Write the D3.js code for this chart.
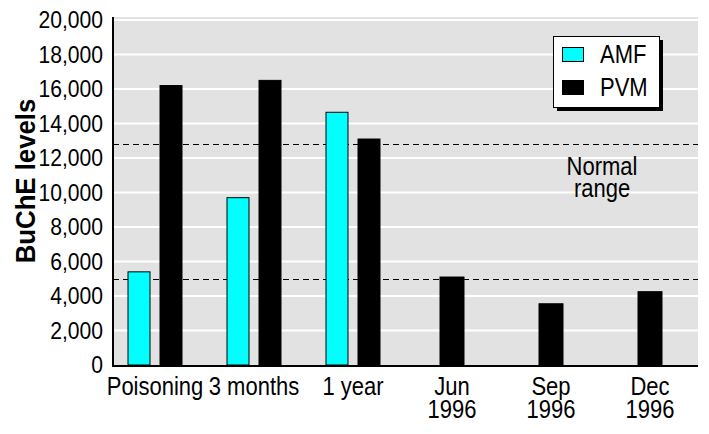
<!DOCTYPE html>
<meta charset="utf-8">
<body style="margin:0;background:#fff">
<script src="https://d3js.org/d3.v7.min.js"></script>
<script>
// data
var categories = ["Poisoning", "3 months", "1 year", "Jun 1996", "Sep 1996", "Dec 1996"];
var series = ["AMF", "PVM"];
var amfValues = [5400, 9700, 14650, null, null, null];
var pvmValues = [16200, 16500, 13100, 5100, 3550, 4250];
var yTicks = [0, 2000, 4000, 6000, 8000, 10000, 12000, 14000, 16000, 18000, 20000];
var normalRange = [5000, 12800];
var colors = {AMF: "#00ffff", PVM: "#000000"};

var width = 709, height = 434;
var font = "'Liberation Sans', Arial, sans-serif";
var squeeze = 0.88; // narrow face look

var svg = d3.select("body").append("svg")
    .attr("width", width)
    .attr("height", height)
    .style("font-family", font);

var pLeft = 113, pRight = 698, pTop = 17, pBottom = 365;

var y = d3.scaleLinear().domain([0, 20000]).range([pBottom, 20]);
var x = d3.scalePoint().domain(categories).range([155, 650]);
var x1 = d3.scaleBand().domain(series).range([-27, 27]).paddingInner(0.3125);

// put a squeezed text at (tx, ty)
function narrowText(parent, tx, ty, str, size, anchor) {
  return parent.append("text")
      .attr("transform", "translate(" + tx + "," + ty + ") scale(" + squeeze + ",1)")
      .attr("text-anchor", anchor || "start")
      .style("font-size", size + "px")
      .text(str);
}

// plot background
svg.append("rect")
    .attr("x", pLeft).attr("y", pTop)
    .attr("width", pRight - pLeft).attr("height", pBottom - pTop)
    .attr("fill", "#e2e2e2");

// white grid
svg.append("g")
  .selectAll("line")
  .data(yTicks.slice(1))
  .enter().append("line")
    .attr("x1", pLeft).attr("x2", pRight)
    .attr("y1", d => y(d)).attr("y2", d => y(d))
    .attr("stroke", "#fff")
    .attr("stroke-width", 2);

// dashed normal range
svg.append("g")
  .selectAll("line")
  .data(normalRange)
  .enter().append("line")
    .attr("x1", pLeft).attr("x2", pRight)
    .attr("y1", d => Math.round(y(d)) + 0.5).attr("y2", d => Math.round(y(d)) + 0.5)
    .attr("stroke", "#000")
    .attr("stroke-width", 1)
    .attr("stroke-dasharray", "6,4");

narrowText(svg, 602, 175, "Normal", 25, "middle");
narrowText(svg, 602, 197, "range", 25, "middle");

// bars
var rows = categories.map(function(c, i) {
  return {cat: c, AMF: amfValues[i], PVM: pvmValues[i]};
});

var groups = svg.append("g")
  .selectAll("g")
  .data(rows)
  .enter().append("g")
    .attr("transform", d => "translate(" + x(d.cat) + ",0)");

groups.selectAll("rect")
  .data(function(d) {
    var both = d.AMF != null;
    return series.filter(s => d[s] != null).map(s => ({key: s, value: d[s], single: !both}));
  })
  .enter().append("rect")
    .attr("x", d => d.single ? -12 : x1(d.key))
    .attr("width", d => d.single ? 24 : x1.bandwidth())
    .attr("y", d => y(d.value))
    .attr("height", d => pBottom - y(d.value))
    .attr("fill", d => colors[d.key])
    .attr("stroke", "#000")
    .attr("stroke-width", 1);

// y axis
var yAxis = svg.append("g")
    .attr("transform", "translate(" + pLeft + ",0)")
    .call(d3.axisLeft(y).tickValues(yTicks).tickSize(0).tickPadding(10).tickFormat(d3.format(",")));
yAxis.select(".domain").remove();
yAxis.selectAll("text")
    .attr("x", -10 / squeeze)
    .attr("transform", "scale(" + squeeze + ",1)")
    .style("font-family", font)
    .style("font-size", "24px")
    .attr("fill", "#000");

// axis lines
svg.append("line")
    .attr("x1", pLeft).attr("x2", pLeft)
    .attr("y1", pTop).attr("y2", pBottom + 2)
    .attr("stroke", "#000").attr("stroke-width", 2);
svg.append("line")
    .attr("x1", pLeft).attr("x2", pRight)
    .attr("y1", pBottom + 1).attr("y2", pBottom + 1)
    .attr("stroke", "#000").attr("stroke-width", 2);

// x labels, two lines for the dates
var xg = svg.append("g");
categories.forEach(function(c) {
  var parts = c.split(" ");
  if (parts.length === 2 && /^\d+$/.test(parts[1])) {
    narrowText(xg, x(c), 395, parts[0], 25, "middle");
    narrowText(xg, x(c), 418, parts[1], 25, "middle");
  } else {
    narrowText(xg, x(c), 395, c, 25, "middle");
  }
});

// y title
svg.append("text")
    .attr("transform", "translate(35,181) rotate(-90) scale(0.92,1)")
    .attr("text-anchor", "middle")
    .style("font-size", "28px")
    .style("font-weight", "bold")
    .text("BuChE levels");

// legend
var lg = svg.append("g");
lg.append("rect")
    .attr("x", 557).attr("y", 40).attr("width", 106).attr("height", 71)
    .attr("fill", "#000");
lg.append("rect")
    .attr("x", 553.5).attr("y", 36.5).attr("width", 106).attr("height", 71)
    .attr("fill", "#fff").attr("stroke", "#000").attr("stroke-width", 1);
var li = lg.selectAll("g")
  .data(series)
  .enter().append("g")
    .attr("transform", (d, i) => "translate(0," + (i * 33) + ")");
li.append("rect")
    .attr("x", 562.5).attr("y", 47.5).attr("width", 21).attr("height", 14)
    .attr("fill", d => colors[d])
    .attr("stroke", "#000").attr("stroke-width", 1);
li.each(function(d) {
  narrowText(d3.select(this), 600, 63, d, 25, "start");
});
</script>
</body>
